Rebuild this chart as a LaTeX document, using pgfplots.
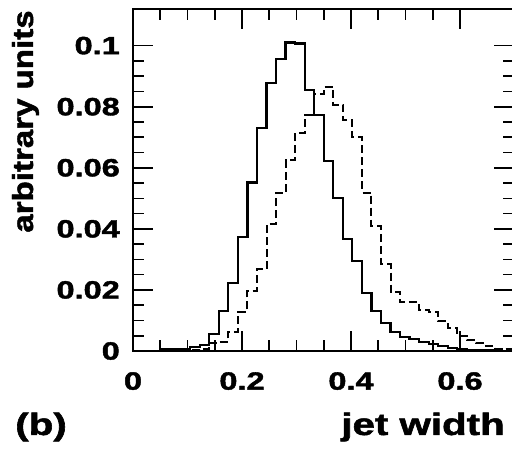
\documentclass[border=0pt]{standalone}
\usepackage{pgfplots}
\pgfplotsset{compat=1.18}
\usepackage{fontspec}
\setmainfont{Liberation Sans}
\newfontfamily\hv{Liberation Sans Bold}[FakeBold=1.5]
\newcommand{\tl}[1]{\scalebox{1.3}[1]{\fontsize{25}{29}\hv #1}}
\begin{document}
\begin{tikzpicture}
\begin{axis}[
  scale only axis, width=381.5pt, height=342pt,
  xmin=0, xmax=0.7, ymin=0, ymax=0.112,
  axis line style={line width=2pt},
  tick align=inside,
  major tick length=20pt, minor tick length=11pt,
  every tick/.style={black, line width=1.6pt},
  xtick={0,0.2,0.4,0.6},
  xticklabels={\tl{0},\tl{0.2},\tl{0.4},\tl{0.6}},
  minor x tick num=3,
  ytick={0,0.02,0.04,0.06,0.08,0.1},
  yticklabels={\tl{0},\tl{0.02},\tl{0.04},\tl{0.06},\tl{0.08},\tl{0.1}},
  minor y tick num=3,
  xticklabel style={anchor=north, inner sep=0pt, yshift=-21pt},
  yticklabel style={anchor=east, inner sep=0pt, xshift=-13pt},
  clip=false,
]
\addplot[const plot, black, line width=2.2pt] coordinates {
(0,0) (0.0175,0) (0.035,0) (0.0525,0.0005) (0.07,0.0005) (0.0875,0.0005)
(0.105,0.0012) (0.1225,0.002) (0.14,0.0056) (0.1575,0.013) (0.175,0.0223)
(0.1925,0.0374) (0.21,0.0552) (0.2275,0.0731) (0.245,0.0878) (0.2625,0.0955)
(0.28,0.101) (0.2975,0.1007) (0.315,0.0854) (0.3325,0.0774) (0.35,0.0623)
(0.3675,0.05) (0.385,0.0367) (0.4025,0.0294) (0.42,0.019) (0.4375,0.013)
(0.455,0.0092) (0.4725,0.0061) (0.49,0.0046) (0.5075,0.0038) (0.525,0.003)
(0.5425,0.0024) (0.56,0.0017) (0.5775,0.0011) (0.595,0.0007) (0.6125,0.0004)
(0.63,0.0003) (0.6475,0.0002) (0.665,0.0001) (0.6825,0.0001) (0.7,0.0001)
};
\addplot[const plot, black, line width=2pt, dash pattern=on 8pt off 4pt] coordinates {
(0,0) (0.0175,0) (0.035,0) (0.0525,0) (0.07,0) (0.0875,0.0002)
(0.105,0.0003) (0.1225,0.0006) (0.14,0.0025) (0.1575,0.0031) (0.175,0.0063)
(0.1925,0.0129) (0.21,0.0198) (0.2275,0.0269) (0.245,0.0417) (0.2625,0.0518)
(0.28,0.0625) (0.2975,0.0714) (0.315,0.0774) (0.3325,0.0842) (0.35,0.0866)
(0.3675,0.0807) (0.385,0.0757) (0.4025,0.0702) (0.42,0.0519) (0.4375,0.0409)
(0.455,0.0285) (0.4725,0.0194) (0.49,0.016) (0.5075,0.0159) (0.525,0.0135)
(0.5425,0.0128) (0.56,0.0098) (0.5775,0.0076) (0.595,0.005) (0.6125,0.0035)
(0.63,0.0026) (0.6475,0.0015) (0.665,0.0008) (0.6825,0.0005) (0.7,0.0005)
};
\node[rotate=90, anchor=center, inner sep=0pt] at (axis description cs:-0.2818,0.671)
  {\fontsize{29}{32}\hv\scalebox{1.14}[1]{arbitrary units}};
\node[anchor=base east, inner sep=0pt] at (axis description cs:0.975,-0.2456)
  {\scalebox{1.3}[1]{\fontsize{31}{35}\hv jet width}};
\node[anchor=base west, inner sep=0pt] at (axis description cs:-0.309,-0.2456)
  {\scalebox{1.3}[1]{\fontsize{31}{35}\hv (b)}};
\end{axis}
\pgfresetboundingbox
\useasboundingbox (-133pt,-110pt) rectangle (379pt,351pt);
\end{tikzpicture}
\end{document}
